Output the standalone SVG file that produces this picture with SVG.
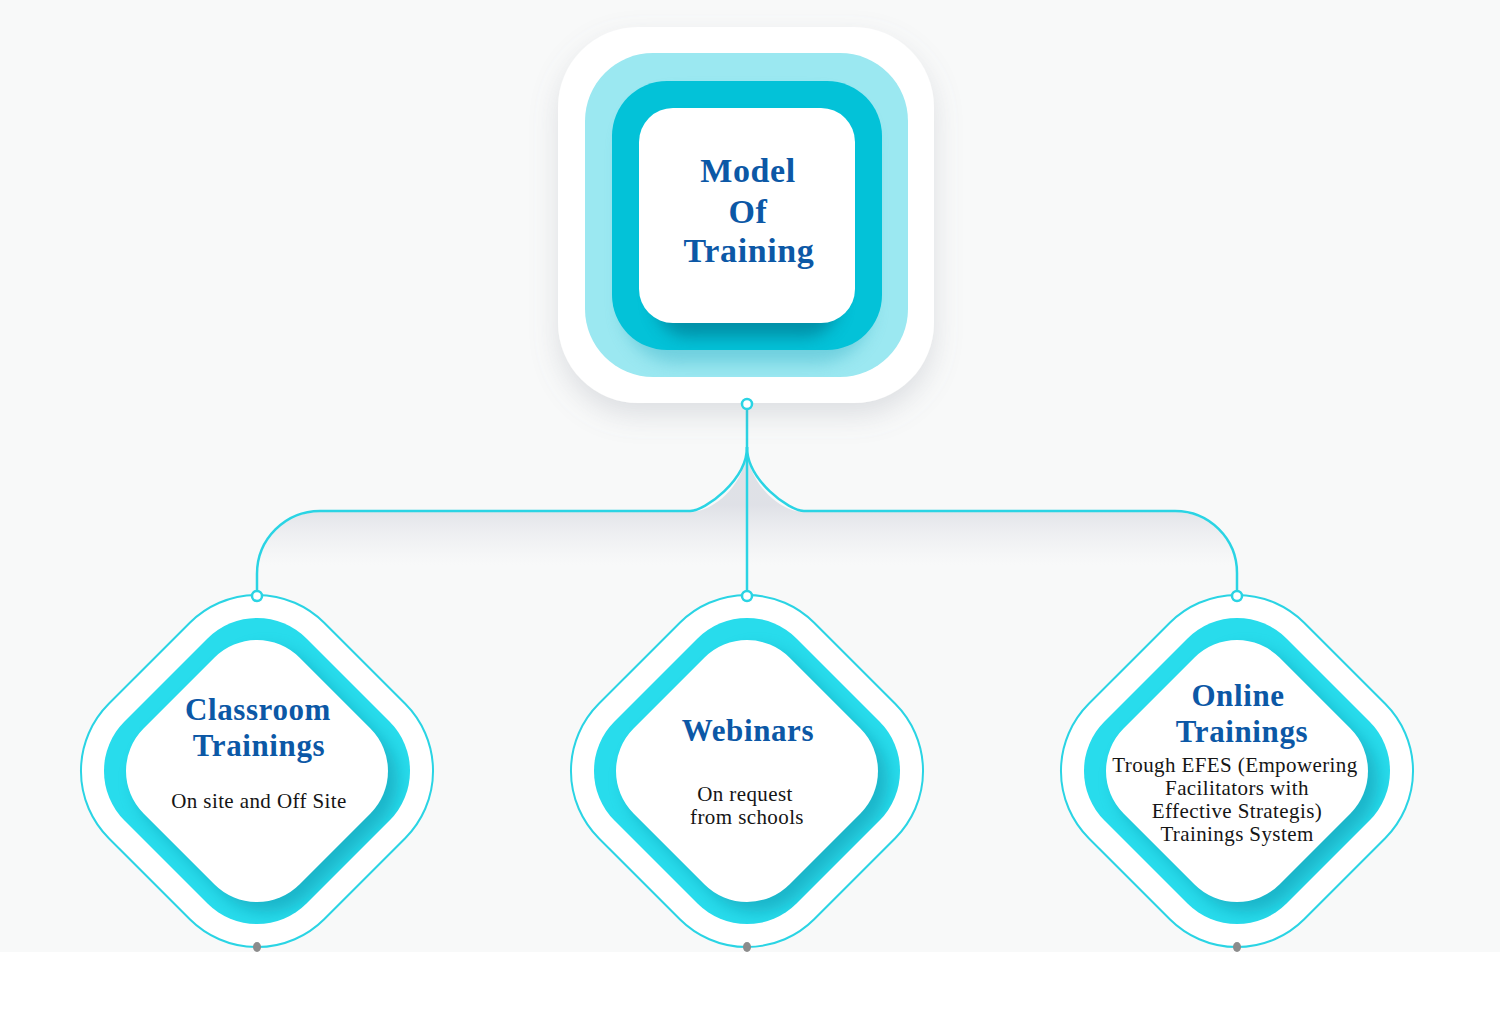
<svg xmlns="http://www.w3.org/2000/svg" width="1500" height="1013" viewBox="0 0 1500 1013">
<style>
.title{font-family:"Liberation Serif","Times New Roman",serif;font-weight:bold;fill:#0c58a6;text-anchor:middle;letter-spacing:0.6px}
.body{font-family:"Liberation Serif","Times New Roman",serif;font-size:21px;letter-spacing:0.4px;fill:#151515;text-anchor:middle}
.conn{fill:none;stroke:#2ad4e4;stroke-width:2.5}
.port{fill:#fff;stroke:#2ad4e4;stroke-width:2.5}
.dot{fill:#8c8c8c}
</style>
<defs>
<filter id="drop" x="-30%" y="-30%" width="160%" height="170%">
<feGaussianBlur in="SourceAlpha" stdDeviation="14"/>
<feOffset dy="12" result="b"/>
<feFlood flood-color="#7a8090" flood-opacity="0.22"/>
<feComposite in2="b" operator="in"/>
<feMerge><feMergeNode/><feMergeNode in="SourceGraphic"/></feMerge>
</filter>
<filter id="blur8" x="-30%" y="-30%" width="160%" height="160%"><feGaussianBlur stdDeviation="8"/></filter>
<linearGradient id="connShade" gradientUnits="userSpaceOnUse" x1="0" y1="505" x2="0" y2="565">
<stop offset="0" stop-color="#d9dbe2" stop-opacity="0.8"/>
<stop offset="1" stop-color="#e6e7ec" stop-opacity="0"/>
</linearGradient>
<clipPath id="lightClip"><rect x="585" y="53" width="323" height="324" rx="68"/></clipPath>
<clipPath id="darkClip"><rect x="612" y="81" width="270" height="269" rx="55"/></clipPath>
<clipPath id="bandClip"><rect x="-128.7" y="-128.7" width="257.4" height="257.4" rx="70" transform="rotate(45)"/></clipPath>
<g id="diamond">
<rect x="-152.3" y="-152.3" width="304.6" height="304.6" rx="95" transform="rotate(45)" fill="#fff" stroke="#2ad4e4" stroke-width="2"/>
<rect x="-128.7" y="-128.7" width="257.4" height="257.4" rx="70" transform="rotate(45)" fill="#28dcec"/>
<g clip-path="url(#bandClip)">
<rect x="-110.2" y="-110.2" width="220.4" height="220.4" rx="60" transform="translate(10,10) rotate(45)" fill="#0a8ea6" opacity="0.5" filter="url(#blur8)"/>
</g>
<rect x="-110.2" y="-110.2" width="220.4" height="220.4" rx="60" transform="rotate(45)" fill="#fff"/>
</g>
</defs>

<rect x="0" y="0" width="1500" height="1013" fill="#fff"/>
<rect x="0" y="0" width="1500" height="952" fill="#f8f9f9"/>

<g id="connectors">
<path d="M257 576 A63 63 0 0 1 320 512 H690 C715 512 747 482 747 447 C747 482 779 512 804 512 H1175 A62 62 0 0 1 1237 576 Z" fill="url(#connShade)"/>
<path class="conn" d="M747 409 V591"/>
<path class="conn" d="M747 447 C747 480 705 511 690 511 H320 A63 63 0 0 0 257 574 V591"/>
<path class="conn" d="M747 447 C747 480 789 511 804 511 H1175 A62 62 0 0 1 1237 573 V591"/>
</g>

<g id="node-model">
<rect x="558" y="27" width="376" height="376" rx="80" fill="#fff" filter="url(#drop)"/>
<rect x="585" y="53" width="323" height="324" rx="68" fill="#9be8f1"/>
<g clip-path="url(#lightClip)">
<rect x="622" y="94" width="250" height="269" rx="55" fill="#4cbccf" opacity="0.55" filter="url(#blur8)"/>
</g>
<rect x="612" y="81" width="270" height="269" rx="55" fill="#03c2d8"/>
<g clip-path="url(#darkClip)">
<rect x="655" y="122" width="184" height="215" rx="34" fill="#006f88" opacity="0.6" filter="url(#blur8)"/>
</g>
<rect x="639" y="108" width="216" height="215" rx="34" fill="#fff"/>
<text class="title" font-size="34" x="748" y="182">Model</text>
<text class="title" font-size="34" x="748" y="223">Of</text>
<text class="title" font-size="34" x="749" y="262">Training</text>
<circle class="port" cx="747" cy="404" r="5"/>
</g>

<g id="node-classroom">
<use href="#diamond" transform="translate(257,771)"/>
<text class="title" font-size="31" x="258" y="720">Classroom</text>
<text class="title" font-size="31" x="259" y="756">Trainings</text>
<text class="body" x="259" y="808">On site and Off Site</text>
<circle class="port" cx="257" cy="596" r="5"/>
<ellipse class="dot" cx="257" cy="947" rx="4" ry="5"/>
</g>

<g id="node-webinars">
<use href="#diamond" transform="translate(747,771)"/>
<text class="title" font-size="31" x="748" y="741">Webinars</text>
<text class="body" x="745" y="801">On request</text>
<text class="body" x="747" y="824">from schools</text>
<circle class="port" cx="747" cy="596" r="5"/>
<ellipse class="dot" cx="747" cy="947" rx="4" ry="5"/>
</g>

<g id="node-online">
<use href="#diamond" transform="translate(1237,771)"/>
<text class="title" font-size="31" x="1238" y="706">Online</text>
<text class="title" font-size="31" x="1242" y="742">Trainings</text>
<text class="body" x="1235" y="772">Trough EFES (Empowering</text>
<text class="body" x="1237" y="795">Facilitators with</text>
<text class="body" x="1237" y="818">Effective Strategis)</text>
<text class="body" x="1237" y="841">Trainings System</text>
<circle class="port" cx="1237" cy="596" r="5"/>
<ellipse class="dot" cx="1237" cy="947" rx="4" ry="5"/>
</g>
</svg>
